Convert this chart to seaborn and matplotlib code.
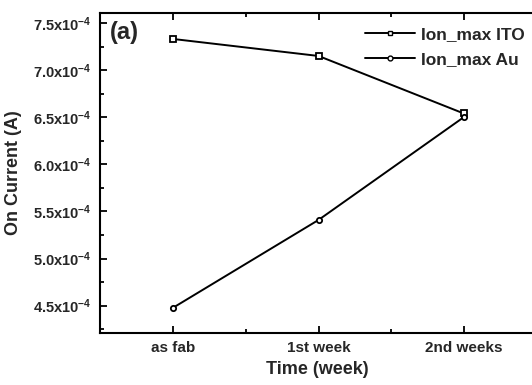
import matplotlib
matplotlib.use("Agg")
import matplotlib.pyplot as plt
import seaborn as sns
import pandas as pd
import numpy as np
from matplotlib.ticker import FixedLocator, MultipleLocator, FuncFormatter
from matplotlib.lines import Line2D

sns.set_theme(style="white")
plt.rcParams['font.family'] = ['Liberation Sans', 'DejaVu Sans']
plt.rcParams['font.weight'] = 'bold'
plt.rcParams['mathtext.default'] = 'bf'
plt.rcParams['mathtext.fontset'] = 'custom'
plt.rcParams['mathtext.bf'] = 'Liberation Sans:bold'

categories = ["as fab", "1st week", "2nd weeks"]
ito = [7.33e-4, 7.15e-4, 6.54e-4]
au = [4.48e-4, 5.41e-4, 6.50e-4]
series_names = ["Ion_max ITO", "Ion_max Au"]

df = pd.DataFrame({
    "pos": list(range(len(categories))) * 2,
    "val": ito + au,
    "series": [series_names[0]] * 3 + [series_names[1]] * 3,
})

fig = plt.figure(figsize=(5.32, 3.85), dpi=100)
ax = fig.add_axes([0.188, 0.135, 0.816, 0.831])

sns.lineplot(data=df, x="pos", y="val", style="series", markers=["s", "o"],
             dashes=False, color="black", linewidth=1.4, markersize=3.8,
             markerfacecolor="white", markeredgecolor="black", markeredgewidth=1.3,
             legend=False, ax=ax)

ax.set_xlim(-0.505, 2.485)
ax.set_ylim(4.21e-4, 7.605e-4)

ax.xaxis.set_major_locator(FixedLocator([0, 1, 2]))
ax.set_xticklabels(categories)
ax.xaxis.set_minor_locator(FixedLocator([0.5, 1.5]))
ax.yaxis.set_major_locator(MultipleLocator(0.5e-4))
ax.yaxis.set_minor_locator(MultipleLocator(0.25e-4))
ax.yaxis.set_major_formatter(FuncFormatter(lambda v, p: "%.1fx10$^{-4}$" % (v * 1e4)))

ax.tick_params(which="both", direction="in", top=True, right=False, bottom=True, left=True,
               width=1.3, color="black")
ax.tick_params(axis="y", which="major", length=5, labelsize=10.5, pad=6)
ax.tick_params(axis="x", which="major", length=5, labelsize=11, pad=6)
ax.tick_params(which="minor", length=3)
for lab in ax.get_xticklabels() + ax.get_yticklabels():
    lab.set_fontweight("bold")

for s in ["left", "bottom", "top"]:
    ax.spines[s].set_visible(True)
    ax.spines[s].set_color("black")
    ax.spines[s].set_linewidth(1.5)
ax.spines["right"].set_visible(False)

ax.set_xlabel("Time (week)", fontsize=13, fontweight="bold", labelpad=4)
ax.set_ylabel("On Current (A)", fontsize=13, fontweight="bold", labelpad=8)

ax.text(0.022, 0.975, "(a)", transform=ax.transAxes, fontsize=17, fontweight="bold",
        va="top", ha="left")

handles = [
    Line2D([], [], color="black", lw=1.4, marker="s", ms=3.5, mfc="white", mec="black"),
    Line2D([], [], color="black", lw=1.4, marker="o", ms=3.5, mfc="white", mec="black"),
]
leg = ax.legend(handles, series_names, loc="upper right", bbox_to_anchor=(1.015, 1.005),
                frameon=False, prop={"weight": "bold", "size": 12.5},
                handlelength=2.9, handletextpad=0.35, labelspacing=0.55)

fig.savefig("out.png", dpi=100)
